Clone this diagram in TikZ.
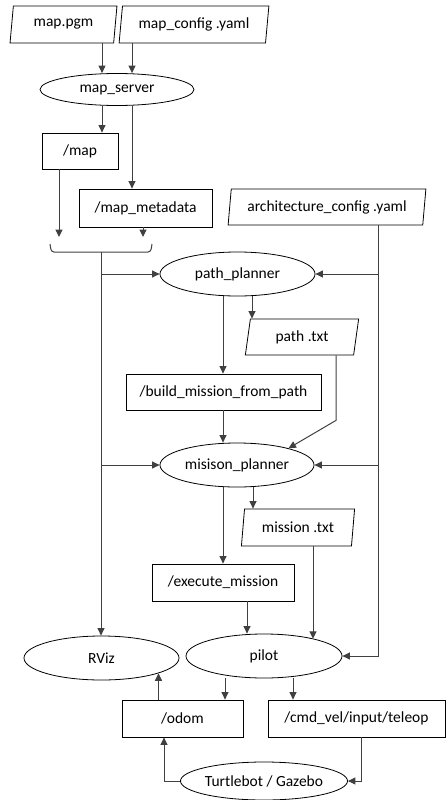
\documentclass[tikz,border=0pt]{standalone}
\usepackage{fontspec}
\setmainfont{Carlito}
\usetikzlibrary{shapes.geometric,arrows.meta}

\begin{document}
\begin{tikzpicture}[
  x=1pt, y=-1pt,
  every node/.style={font=\fontsize{15.5}{18}\selectfont, inner sep=0pt},
  topic/.style={draw=black, line width=0.8pt, rectangle, minimum height=37pt},
  datafile/.style={draw=black, line width=0.8pt, trapezium, trapezium left angle=79, trapezium right angle=101, trapezium stretches=true, minimum height=37pt},
  rosnode/.style={draw=black, line width=0.8pt, ellipse, minimum height=44pt},
  line/.style={draw=black!75, line width=1pt},
  arrow/.style={line, -{Triangle[length=7.5pt,width=7pt]}}
]
\useasboundingbox (0,0) rectangle (446,800);

\node[datafile, minimum width=107pt] (mappgm) at (63.5,24.5) {map.pgm};
\node[datafile, minimum width=150pt] (mapcfg) at (194,24.5) {map\_config .yaml};
\node[rosnode, minimum width=154pt, minimum height=32pt] (mapsrv) at (117,89.5) {map\_server};
\node[topic, minimum width=76pt, minimum height=36pt] (map) at (80,151) {/map};
\node[topic, minimum width=133pt, minimum height=38pt] (mapmeta) at (145.5,208) {/map\_metadata};
\node[datafile, minimum width=198pt, minimum height=36pt] (archcfg) at (327,207) {architecture\_config .yaml};
\node[rosnode, minimum width=155pt] (pathpl) at (237.5,274) {path\_planner};
\node[datafile, minimum width=114pt, minimum height=36pt] (pathtxt) at (302,337) {path .txt};
\node[topic, minimum width=195pt, minimum height=36pt] (build) at (223.5,392) {/build\_mission\_from\_path};
\node[rosnode, minimum width=154pt] (mispl) at (237,465) {misison\_planner};
\node[datafile, minimum width=114pt] (misstxt) at (298,527.5) {mission .txt};
\node[topic, minimum width=142pt] (exec) at (223,582.5) {/execute\_mission};
\node[rosnode, minimum width=155pt] (rviz) at (101.5,658) {RViz};
\node[rosnode, minimum width=156pt] (pilot) at (264,656) {pilot};
\node[topic, minimum width=121pt] (odom) at (182.5,718.5) {/odom};
\node[topic, minimum width=177pt] (cmdvel) at (356.5,718.5) {/cmd\_vel/input/teleop};
\node[rosnode, minimum width=156pt, minimum height=38pt] (turtle) at (264,781) {Turtlebot / Gazebo};

% map server inputs and outputs
\draw[arrow] ([xshift=38.5]mappgm.south) -- ([xshift=38.5]mappgm.south |- mapsrv.north);
\draw[arrow] ([xshift=-62]mapcfg.south) -- ([xshift=-62]mapcfg.south |- mapsrv.north);
\draw[arrow] ([xshift=-15]mapsrv.south) -- ([xshift=-15]mapsrv.south |- map.north);
\draw[arrow] ([xshift=15]mapsrv.south) -- ([xshift=15]mapsrv.south |- mapmeta.north);

% bracket joining the map topics
\coordinate (brtop) at (101,237);
\coordinate (join) at (101,252);
\draw[arrow] ([xshift=-21]map.south) -- ([xshift=-21]map.south |- brtop);
\draw[arrow] ([xshift=-2.5]mapmeta.south) -- ([xshift=-2.5]mapmeta.south |- brtop);
\draw[line] (50,244) to[out=-80,in=180] (54,252) -- (148,252) to[out=0,in=-100] (152,244);
\draw[line] (join) -- ++(0,3);
\draw[arrow] (join) -- (join |- rviz.north);
\draw[arrow] (join |- pathpl.west) -- (pathpl.west);
\draw[arrow] (join |- mispl.west) -- (mispl.west);

% architecture config
\draw[arrow] ([xshift=51]archcfg.south) |- (pilot.east);
\draw[arrow] ([xshift=51]archcfg.south |- pathpl.east) -- (pathpl.east);
\draw[arrow] ([xshift=51]archcfg.south |- mispl.east) -- (mispl.east);

% planners
\draw[arrow] ([xshift=-14.5]pathpl.south) -- ([xshift=-14.5]pathpl.south |- build.north);
\draw[arrow] ([xshift=14.5]pathpl.south) -- ([xshift=14.5]pathpl.south |- pathtxt.north);
\draw[arrow] ([xshift=34]pathtxt.south) -- ++(0,65) -- (mispl.18);
\draw[arrow] ([xshift=-0.5]build.south) -- ([xshift=-0.5]build.south |- mispl.north);
\draw[arrow] ([xshift=-14]mispl.south) -- ([xshift=-14]mispl.south |- exec.north);
\draw[arrow] ([xshift=16]mispl.south) -- ([xshift=16]mispl.south |- misstxt.north);
\draw[arrow] ([xshift=15]misstxt.south) -- ([xshift=15]misstxt.south |- pilot.19);
\draw[arrow] ([xshift=24]exec.south) -- ([xshift=24]exec.south |- pilot.north);

% pilot and robot
\draw[arrow] ([xshift=-39]pilot.south) -- ([xshift=-39]pilot.south |- odom.north);
\draw[arrow] ([xshift=29]pilot.south) -- ([xshift=29]pilot.south |- cmdvel.north);
\draw[arrow] (odom.north -| rviz.-15) -- (rviz.-15);
\draw[arrow] (turtle.west) -| ([xshift=-18.5]odom.south);
\draw[arrow] ([xshift=5]cmdvel.south) |- (turtle.east);
\end{tikzpicture}
\end{document}
